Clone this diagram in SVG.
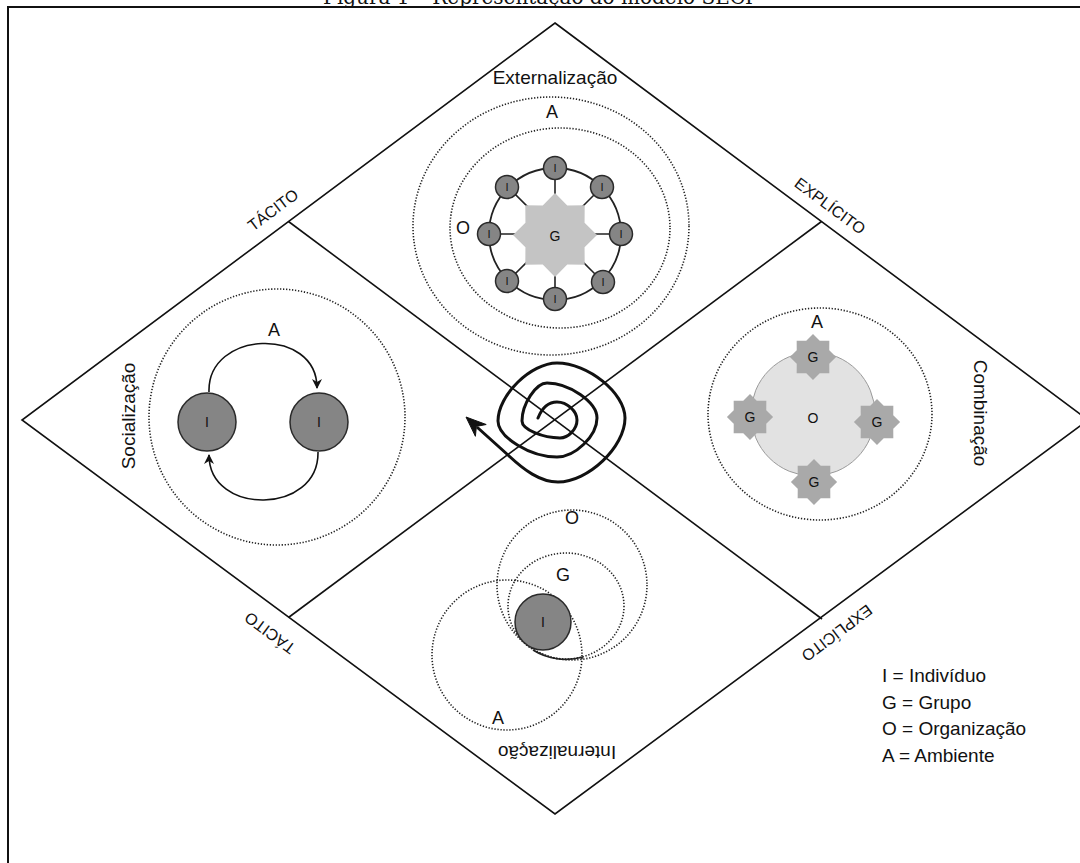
<svg xmlns="http://www.w3.org/2000/svg" width="1080" height="863" viewBox="0 0 1080 863">
<style>
.line{stroke:#111;stroke-width:1.6;fill:none}
.dot{stroke:#222;stroke-width:1.6;fill:none;stroke-dasharray:1.3 1.7}
.lbl{font-family:"Liberation Sans",Arial,sans-serif;fill:#111;text-anchor:middle;dominant-baseline:central}
.q{font-size:19px}
.ax{font-size:16px}
.s{font-size:18px}
.t{font-size:14px}
.ti{font-size:11px}
.ind{fill:#858585;stroke:#2a2a2a;stroke-width:1.5}
.gbig{fill:#c4c4c4}
.gsm{fill:#a9a9a9}
.leg{font-family:"Liberation Sans",Arial,sans-serif;font-size:19px;fill:#111}
</style>
<defs>
<polygon id="star" points="0,-42 12.25,-29.56 29.7,-29.7 29.56,-12.25 42,0 29.56,12.25 29.7,29.7 12.25,29.56 0,42 -12.25,29.56 -29.7,29.7 -29.56,12.25 -42,0 -29.56,-12.25 -29.7,-29.7 -12.25,-29.56"/>
<marker id="arr" viewBox="0 0 10 10" refX="9" refY="5" markerWidth="10" markerHeight="10" markerUnits="userSpaceOnUse" orient="auto">
<path d="M0,0 L10,5 L0,10 L3,5 z" fill="#111"/>
</marker>
</defs>
<rect x="0" y="0" width="1080" height="863" fill="#fff"/>

<g id="title">
<text x="538" y="4" font-family="DejaVu Serif,serif" font-size="20" text-anchor="middle" fill="#111">Figura 1 – Representação do modelo SECI</text>
</g>
<g id="frame">
<rect x="8" y="7" width="1100" height="900" fill="none" stroke="#111" stroke-width="2"/>
</g>

<g id="connectors">
<polygon class="line" points="555,23 1088,420 555,814 22,420"/>
<line class="line" x1="288.5" y1="221.5" x2="822" y2="619"/>
<line class="line" x1="821.5" y1="221.5" x2="288.5" y2="617.5"/>
<path class="line" d="M209,392 C207,330 317,326 317,388" marker-end="url(#arr)"/>
<path class="line" d="M318,452 C319,515 209,516 209,455" marker-end="url(#arr)"/>
</g>

<g id="axis-labels">
<text class="lbl ax" transform="translate(273,210) rotate(-36.7)">TÁCITO</text>
<text class="lbl ax" transform="translate(830,206) rotate(36.7)">EXPLÍCITO</text>
<text class="lbl ax" transform="translate(270,633) rotate(216.7)">TÁCITO</text>
<text class="lbl ax" transform="translate(837,633) rotate(143.3)">EXPLÍCITO</text>
</g>

<g id="externalizacao">
<text class="lbl q" x="555" y="77">Externalização</text>
<ellipse class="dot" cx="551" cy="226" rx="138" ry="129"/>
<ellipse class="dot" cx="560" cy="228" rx="110" ry="100"/>
<text class="lbl s" x="552" y="112">A</text>
<text class="lbl s" x="463" y="228">O</text>
<circle cx="555" cy="234" r="66" fill="none" stroke="#222" stroke-width="1.8"/>
<g stroke="#222" stroke-width="1.6">
<line x1="555" y1="168" x2="555" y2="300"/>
<line x1="489" y1="234" x2="621" y2="234"/>
<line x1="508" y1="187" x2="602" y2="281"/>
<line x1="602" y1="187" x2="508" y2="281"/>
</g>
<use href="#star" class="gbig" transform="translate(555,235)"/>
<text class="lbl t" x="555" y="236">G</text>
<g class="ind">
<circle cx="555" cy="168" r="11.5"/>
<circle cx="507" cy="187" r="11.5"/>
<circle cx="602" cy="187" r="11.5"/>
<circle cx="489" cy="234" r="11.5"/>
<circle cx="621" cy="234" r="11.5"/>
<circle cx="507" cy="281" r="11.5"/>
<circle cx="603" cy="282" r="11.5"/>
<circle cx="555" cy="299" r="11.5"/>
</g>
<g class="lbl ti">
<text x="555" y="168">I</text>
<text x="507" y="187">I</text>
<text x="602" y="187">I</text>
<text x="489" y="234">I</text>
<text x="621" y="234">I</text>
<text x="507" y="281">I</text>
<text x="603" y="282">I</text>
<text x="555" y="299">I</text>
</g>
</g>

<g id="socializacao">
<text class="lbl q" transform="translate(128,416) rotate(-90)">Socialização</text>
<circle class="dot" cx="277" cy="417" r="128"/>
<text class="lbl s" x="274" y="330">A</text>
<circle class="ind" cx="207" cy="422" r="29"/>
<circle class="ind" cx="319" cy="422" r="29"/>
<text class="lbl t" x="207" y="422">I</text>
<text class="lbl t" x="319" y="422">I</text>
</g>

<g id="combinacao">
<text class="lbl q" transform="translate(980,413) rotate(90)">Combinação</text>
<ellipse class="dot" cx="820" cy="414" rx="112" ry="106"/>
<text class="lbl s" x="817" y="322">A</text>
<circle cx="813" cy="414" r="62" fill="#e2e2e2" stroke="#9a9a9a" stroke-width="1"/>
<use href="#star" class="gsm" transform="translate(813,357) scale(0.55)"/>
<use href="#star" class="gsm" transform="translate(750,417) scale(0.55)"/>
<use href="#star" class="gsm" transform="translate(877,422) scale(0.55)"/>
<use href="#star" class="gsm" transform="translate(814,482) scale(0.55)"/>
<g class="lbl t">
<text x="813" y="357">G</text>
<text x="750" y="417">G</text>
<text x="877" y="422">G</text>
<text x="814" y="482">G</text>
<text x="813" y="418">O</text>
</g>
</g>

<g id="internalizacao">
<text class="lbl q" transform="translate(557,752) rotate(180)">Internalização</text>
<ellipse class="dot" cx="572" cy="585" rx="75" ry="75"/>
<ellipse class="dot" cx="566" cy="606" rx="58" ry="53"/>
<ellipse class="dot" cx="507" cy="655" rx="75" ry="75"/>
<circle class="ind" cx="543" cy="622" r="28"/>
<path d="M533,650 A58,53 0 0 0 583,657" fill="none" stroke="#222" stroke-width="1.6"/>
<text class="lbl t" x="543" y="622">I</text>
<text class="lbl s" x="572" y="518">O</text>
<text class="lbl s" x="563" y="575">G</text>
<text class="lbl s" x="498" y="718">A</text>
</g>

<g id="spiral">
<path d="M538,418 C542,408 548,402 557,402 C567,402 577,411 577,420 C577,429 568.5,438 560,438 C543,438 522,429.5 522,421 C522,404 536,383 547,383 C569,383 597,402 597,418 C597,436 575,457 557,457 C530,457 498,437 498,421 C498,395 531,363 557,363 C588,363 625,393 625,418 C625,447 588,482 558,482 C540,482 524,470 508,455 L478,428" fill="none" stroke="#111" stroke-width="3" stroke-linecap="round" stroke-linejoin="round"/>
<polygon points="466,417 486.2,424.5 476.4,426.4 475.4,436.3" fill="#111" stroke="#111" stroke-width="1"/>
</g>

<g id="legend">
<text class="leg" x="882" y="682">I = Indivíduo</text>
<text class="leg" x="882" y="709">G = Grupo</text>
<text class="leg" x="882" y="735">O = Organização</text>
<text class="leg" x="882" y="762">A = Ambiente</text>
</g>
</svg>
